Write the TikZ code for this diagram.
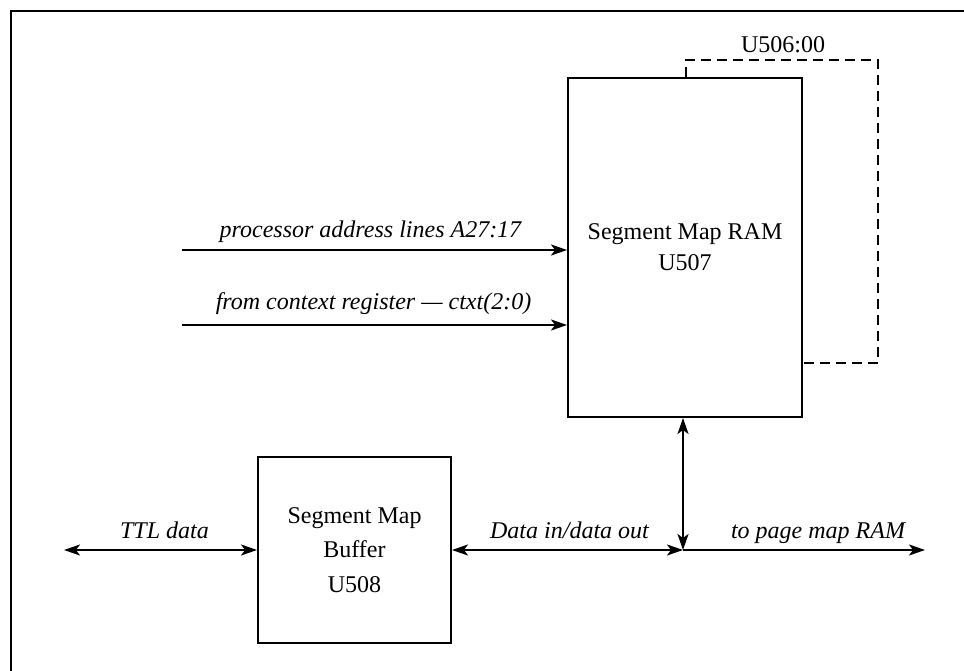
\documentclass[tikz,border=0pt]{standalone}
\usepackage{fontspec}
\setmainfont{Liberation Serif}
\usetikzlibrary{arrows.meta}
\begin{document}
\begin{tikzpicture}[x=1pt,y=-1pt,
  tip/.tip={Stealth[length=16pt,width=11pt,inset=4pt]},
  box/.style={draw, line width=2pt, align=center,
    font=\fontsize{24}{31}\selectfont, inner sep=0pt},
  sig/.style={line width=2pt, -tip},
  bus/.style={line width=2pt, tip-tip},
  lbl/.style={font=\fontsize{24}{27}\selectfont\itshape, anchor=base, inner sep=0pt},
  tag/.style={font=\fontsize{24}{27}\selectfont, anchor=base, inner sep=0pt}]
\useasboundingbox (0,0) rectangle (964,671);

% page frame
\draw[line width=2.8pt] (11,671) -- (11,11) -- (964,11);

% blocks
\node[box, minimum width=234pt, minimum height=339pt] (ram) at (685,247.5)
  {Segment Map RAM\\U507};
\node[box, minimum width=193pt, minimum height=186pt,
  font=\fontsize{24}{34.5}\selectfont] (buf) at (354.5,550)
  {Segment Map\\Buffer\\U508};

% free ends of the signal lines
\coordinate (pa) at (182,250);
\coordinate (cx) at (182,325);
\coordinate (ttl) at (64,550);
\coordinate (jn) at (683,550);
\coordinate (pg) at (925,550);
\coordinate (d1) at (686,60);
\coordinate (d2) at (878,60);
\coordinate (d3) at (878,363);

% inputs to the segment map RAM
\draw[sig] (pa) -- (pa -| ram.west)
  node[lbl, midway, xshift=-4pt, yshift=13pt] {processor address lines A27:17};
\draw[sig] (cx) -- (cx -| ram.west)
  node[lbl, midway, xshift=-1pt, yshift=16pt] {from context register — ctxt(2:0)};

% data bus
\draw[bus] (ttl) -- (buf.west)
  node[lbl, midway, xshift=4pt, yshift=12pt] {TTL data};
\draw[bus] (buf.east) -- (jn)
  node[lbl, midway, xshift=2pt, yshift=12pt] {Data in/data out};
\draw[sig] (jn) -- (pg)
  node[lbl, midway, xshift=14pt, yshift=12pt] {to page map RAM};
\draw[bus] (jn |- ram.south) -- (jn);

% dashed loop back
\draw[line width=2pt, dash pattern=on 10pt off 6pt]
  (d1 |- ram.north) -- (d1) -- (d2) -- (d3) -- (d3 -| ram.east);
\node[tag] (u506) at (783,53) {U506:00};
\end{tikzpicture}
\end{document}
